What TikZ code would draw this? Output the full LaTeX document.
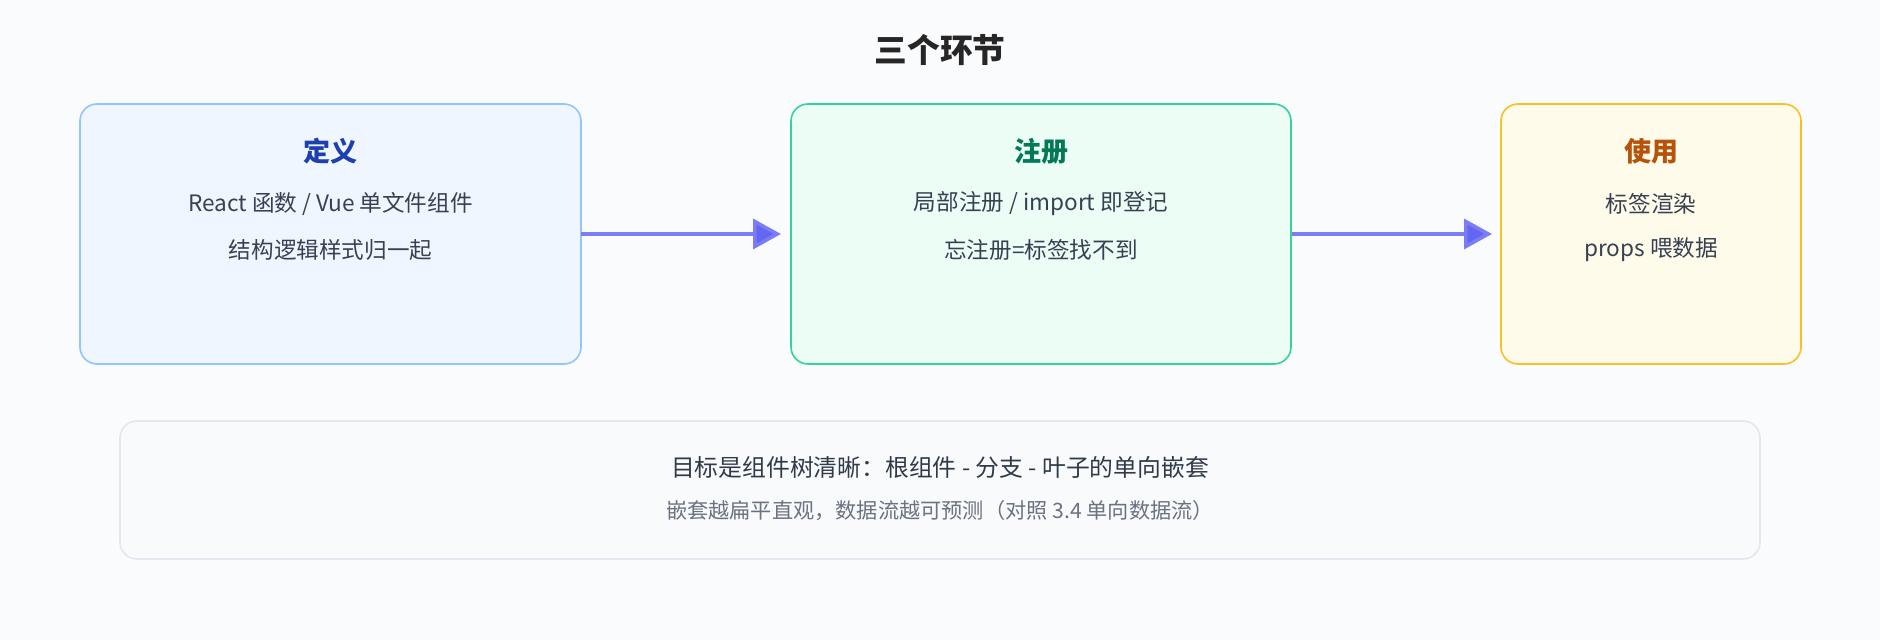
\documentclass[tikz,border=0pt]{standalone}
\usepackage{fontspec}
\setmainfont{Noto Sans CJK SC}
\usetikzlibrary{arrows.meta}
\definecolor{bg}{HTML}{FAFBFD}
\definecolor{txt}{HTML}{374151}
\definecolor{sub}{HTML}{6B7280}
\definecolor{arr}{HTML}{6366F1}
\begin{document}
\begin{tikzpicture}[x=0.5pt,y=-0.5pt,
  box/.style={draw,line width=0.8pt,rounded corners=8.5pt},
  ttl/.style={font=\fontsize{13.5}{16}\selectfont\bfseries},
  ln/.style={font=\fontsize{11.3}{13}\selectfont,text=txt},
  con/.style={draw=arr!85,line width=1.8pt,-{Triangle[length=14pt,width=15pt,fill=arr]}}]
\fill[bg] (0,0) rectangle (1880,640);
\useasboundingbox (0,0) rectangle (1880,640);
\node[font=\fontsize{16.4}{19}\selectfont\bfseries,text=black!85] (title) at (940,50) {三个环节};
\path[box,draw={rgb,255:red,147;green,197;blue,253},fill={rgb,255:red,239;green,246;blue,255}] (80,104) rectangle (581,364) node[pos=0.5,inner sep=0,minimum width=250pt,minimum height=130pt] (b1) {};
\path[box,draw={rgb,255:red,52;green,211;blue,153},fill={rgb,255:red,236;green,253;blue,245}] (791,104) rectangle (1291,364) node[pos=0.5,inner sep=0,minimum width=250pt,minimum height=130pt] (b2) {};
\path[box,draw={rgb,255:red,251;green,191;blue,36},fill={rgb,255:red,255;green,251;blue,235}] (1501,104) rectangle (1801,364) node[pos=0.5,inner sep=0,minimum width=150pt,minimum height=130pt] (b3) {};
\path[box,draw={rgb,255:red,226;green,232;blue,240},fill={rgb,255:red,248;green,250;blue,252}] (120,421) rectangle (1760,559) node[pos=0.5] (b4) {};
\node[ttl,text={rgb,255:red,30;green,64;blue,175}] (t1) at (330.5,151) {定义};
\node[ln] (l11) at (330.5,204) {React 函数 / Vue 单文件组件};
\node[ln] (l12) at (330.5,250) {结构逻辑样式归一起};
\node[ttl,text={rgb,255:red,4;green,120;blue,87}] (t2) at (1041,151) {注册};
\node[ln] (l21) at (1041,204) {局部注册 / import 即登记};
\node[ln] (l22) at (1041,250) {忘注册=标签找不到};
\node[ttl,text={rgb,255:red,180;green,83;blue,9}] (t3) at (1651,151) {使用};
\node[ln] (l31) at (1651,204) {标签渲染};
\node[ln] (l32) at (1651,250) {props 喂数据};
\node[font=\fontsize{11.9}{14}\selectfont,text=txt!90!black] (m1) at (940,467) {目标是组件树清晰：根组件 - 分支 - 叶子的单向嵌套};
\node[font=\fontsize{10.6}{13}\selectfont,text=sub] (m2) at (940,511) {嵌套越扁平直观，数据流越可预测（对照 3.4 单向数据流）};
\coordinate (a1) at (781,234);
\coordinate (a2) at (1492,234);
\draw[con] (b1.east) -- (a1);
\draw[con] (b2.east) -- (a2);
\end{tikzpicture}
\end{document}
